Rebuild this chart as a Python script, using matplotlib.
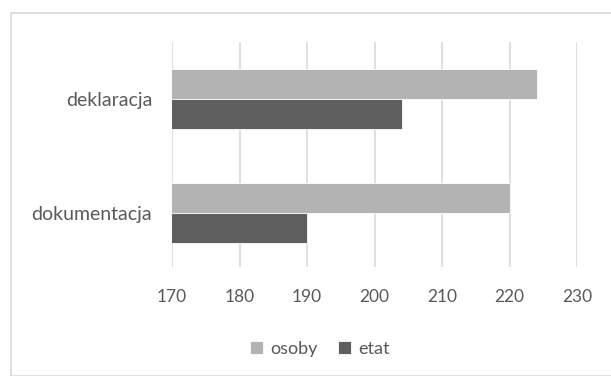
import matplotlib
matplotlib.use("Agg")
import matplotlib.pyplot as plt
from matplotlib.patches import Rectangle
import numpy as np

categories = ["deklaracja", "dokumentacja"]
series_names = ["osoby", "etat"]
osoby = [224, 220]
etat = [204, 190]
x_ticks = [170, 180, 190, 200, 210, 220, 230]

colors = ["#b3b3b3", "#5f5f5f"]
text_color = "#595959"
grid_color = "#d9d9d9"

plt.rcParams["font.family"] = ["Lato", "DejaVu Sans"]

W, H = 611, 376
fig = plt.figure(figsize=(W / 100, H / 100), dpi=100)

# chart area frame
fig.patches.append(Rectangle((11 / W, 0), 1.0, 1 - 13 / H, transform=fig.transFigure,
                             fill=False, edgecolor=grid_color, linewidth=1.2))

ax = fig.add_axes([172 / W, 1 - 267 / H, (577 - 172) / W, (267 - 42) / H])

y = np.arange(len(categories))
h = 0.26
ax.barh(y - h / 2, osoby, height=h, color=colors[0], label=series_names[0],
        edgecolor="white", linewidth=0.6, zorder=3)
ax.barh(y + h / 2, etat, height=h, color=colors[1], label=series_names[1],
        edgecolor="white", linewidth=0.6, zorder=3)

ax.set_xlim(170, 230)
ax.set_ylim(1.474, -0.5)
ax.set_xticks(x_ticks)
ax.set_yticks(y)
ax.set_yticklabels(categories)
ax.xaxis.grid(True, color=grid_color, linewidth=1.2, zorder=0)
ax.set_axisbelow(True)
for s in ax.spines.values():
    s.set_visible(False)
ax.tick_params(axis="both", length=0, colors=text_color)
ax.tick_params(axis="x", pad=16, labelsize=12.5)
ax.tick_params(axis="y", pad=14.4, labelsize=14)

handles, labels = ax.get_legend_handles_labels()
fig.legend(handles, labels, loc="center", bbox_to_anchor=(320 / W, 1 - 349 / H),
           ncol=2, frameon=False, handlelength=0.75, handleheight=0.75,
           handletextpad=0.4, columnspacing=1.1, fontsize=13, labelcolor=text_color)

fig.savefig("out.png", dpi=100)
